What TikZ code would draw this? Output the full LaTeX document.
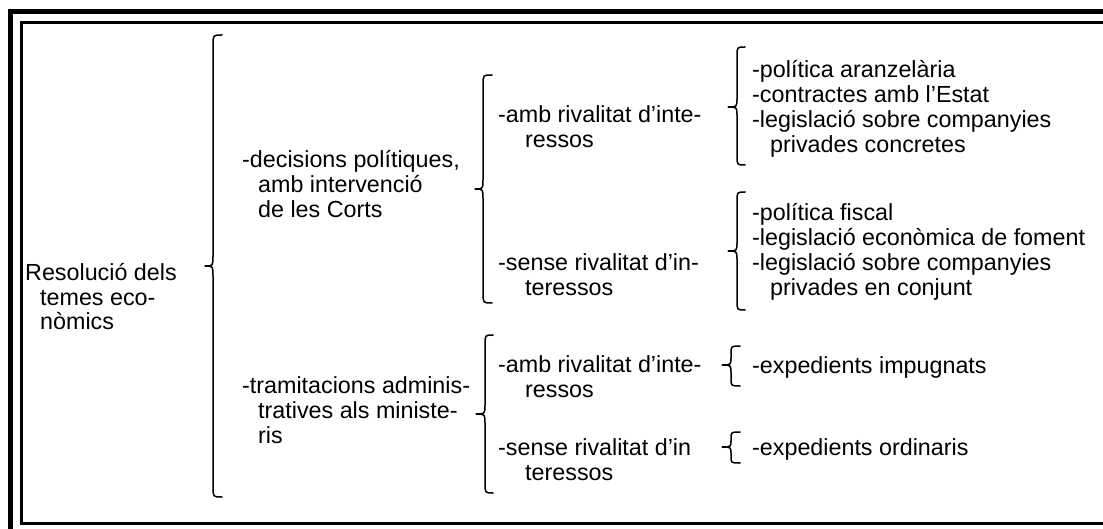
\documentclass[tikz,border=0pt]{standalone}
\usepackage{fontspec}
\setmainfont{Liberation Sans}
\begin{document}
\begin{tikzpicture}[x=1pt,y=-1pt,
  txt/.style={anchor=base west, inner sep=0pt, font=\fontsize{23.3}{25}\selectfont},
  bracepath/.style={line width=1.5pt, line join=round, line cap=round}]
\useasboundingbox (0,0) rectangle (1103,529);
\clip (0,0) rectangle (1103,529);
% frames
\draw[line width=5pt] (10.5,11.5) rectangle (1200,600);
\draw[line width=3pt] (21.5,22.5) rectangle (1200,523);

% brace macro via pic
\tikzset{lbrace/.pic={
  \draw[bracepath] (\be,\bt) .. controls (\bv,\bt) and (\bv,\bt) .. (\bv,\bt+\br)
     -- (\bv,\bm-\br) .. controls (\bv,\bm) and (\bv,\bm) .. (\bx,\bm)
     .. controls (\bv,\bm) and (\bv,\bm) .. (\bv,\bm+\br)
     -- (\bv,\bb-\br) .. controls (\bv,\bb) and (\bv,\bb) .. (\be,\bb);
}}
\newcommand{\mybrace}[7]{% tip x, vertical x, end x, top, mid, bottom, radius
  \def\bx{#1}\def\bv{#2}\def\be{#3}\def\bt{#4}\def\bm{#5}\def\bb{#6}\def\br{#7}%
  \pic {lbrace};}

% column 1
\node[txt] (r1) at (25,281) {Resolució dels};
\node[txt] (r2) at (40,305.5) {temes eco-};
\node[txt] (r3) at (40,330) {nòmics};

% column 2
\node[txt] (d1) at (242,168) {-decisions polítiques,};
\node[txt] (d2) at (258,193) {amb intervenció};
\node[txt] (d3) at (258,218) {de les Corts};
\node[txt] (t1) at (242,393) {-tramitacions adminis-};
\node[txt] (t2) at (258,418) {tratives als ministe-};
\node[txt] (t3) at (258,443) {ris};

% column 3
\node[txt] (a1) at (498,123) {-amb rivalitat d’inte-};
\node[txt] (a2) at (525,148) {ressos};
\node[txt] (s1) at (498,271) {-sense rivalitat d’in-};
\node[txt] (s2) at (525,296) {teressos};
\node[txt] (a3) at (498,372) {-amb rivalitat d’inte-};
\node[txt] (a4) at (525,397) {ressos};
\node[txt] (s3) at (498,455) {-sense rivalitat d’in};
\node[txt] (s4) at (525,480) {teressos};

% column 4
\node[txt] (p1) at (752,78) {-política aranzelària};
\node[txt] (p2) at (752,103) {-contractes amb l’Estat};
\node[txt] (p3) at (752,128) {-legislació sobre companyies};
\node[txt] (p4) at (770,153) {privades concretes};
\node[txt] (f1) at (752,221) {-política fiscal};
\node[txt] (f2) at (752,246) {-legislació econòmica de foment};
\node[txt] (f3) at (752,271) {-legislació sobre companyies};
\node[txt] (f4) at (770,296) {privades en conjunt};
\node[txt] (e1) at (752,373) {-expedients impugnats};
\node[txt] (e2) at (752,455) {-expedients ordinaris};

% braces
\mybrace{205}{213}{222}{35}{266}{497}{10}
\mybrace{475}{483}{492}{75}{189}{303}{10}
\mybrace{476}{485}{493}{335}{414}{493}{10}
\mybrace{728}{737}{745}{47}{107}{165}{9}
\mybrace{728}{737}{745}{192}{251}{310}{9}
\mybrace{722}{731}{740}{346}{365}{386}{8}
\mybrace{722}{731}{740}{432}{447}{463}{7}
\end{tikzpicture}
\end{document}
